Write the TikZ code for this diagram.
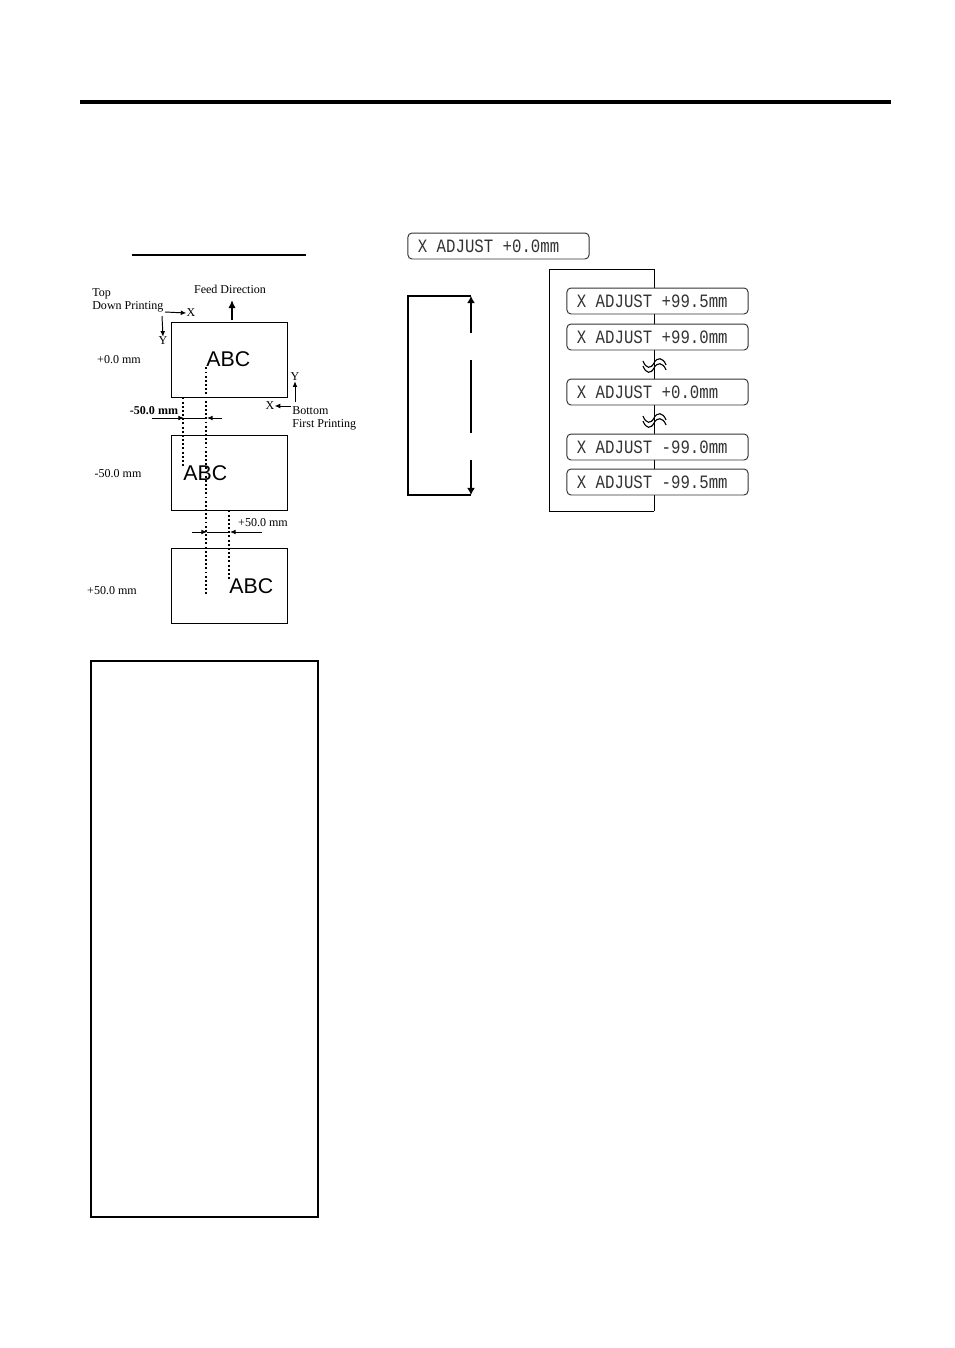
\documentclass[tikz,border=0pt]{standalone}
\usepackage{fontspec}
\setmainfont{Liberation Serif}
\setsansfont{Liberation Sans}
\newfontfamily\lcdfont{Liberation Mono}
\usepackage{graphicx}
\usepackage{xcolor}
\usepackage{tikz}
\usetikzlibrary{arrows.meta,positioning}

\newcommand{\lcdgap}{\hspace*{0.6em}}
\newcommand{\lcdtext}[3]{\scalebox{1}[1.2]{#1\lcdgap#2\lcdgap#3}}

\tikzset{
    note/.style={font=\fontsize{7.5}{8.1}\selectfont},
    sheet/.style={draw, line width=0.6pt, minimum width=72.4pt, minimum height=46.8pt},
    abc/.style={font=\sffamily\fontsize{13.3}{14}\selectfont},
    lcdbox/.style={draw=black!80, fill=white, line width=0.6pt, rounded corners=2.5pt,
        minimum height=16.2pt, text width=100.6pt, inner xsep=6.2pt, align=left,
        font=\lcdfont\fontsize{9.8}{10}\selectfont, text=black!80},
    smallarrow/.style={-{Latex[length=3.5pt,width=3pt]}, line width=0.6pt},
    bigarrow/.style={-{Latex[length=4.4pt,width=5pt]}, line width=1.5pt},
    guide/.style={dash pattern=on 1.2pt off 1.4pt, line width=1.1pt}
}

\begin{document}
\begin{tikzpicture}[x=0.624pt, y=-0.624pt, every node/.style={inner sep=0pt}]
                \useasboundingbox (0,0) rectangle (954,1348);

                % page rule and title rule
                \draw[line width=2.5pt] (80,102) -- (891,102);
                \draw[line width=1.3pt] (132,255) -- (306,255);

                % printed labels
                \node[sheet] (s0) at (229,359.5) {};
                \node[sheet] (s1) at (229,472.5) {};
                \node[sheet] (s2) at (229,585.5) {};
                \node[abc, anchor=west] (abc0) at (206,359.5) {ABC};
                \node[abc, anchor=west] (abc1) at (183,473.5) {ABC};
                \node[abc, anchor=west] (abc2) at (229,586.5) {ABC};

                \node[note] (p0) at (119,360) {+0.0 mm};
                \node[note] (p1) at (118,474) {-50.0 mm};
                \node[note] (p2) at (112,591) {+50.0 mm};

                % guide lines
                \draw[guide] (abc0.south west) -- (abc0.south west |- abc2.south);
                \draw[guide] (abc1.north west |- s0.south) -- (abc1.north west);
                \draw[guide] (abc2.north west |- s1.south) -- (abc2.north west);

                % shift -50.0 mm
                \node[note, font=\fontsize{7.5}{8.1}\selectfont\bfseries] (m50) at (154,411) {-50.0 mm};
                \draw[line width=0.6pt] (184,418) -- (207,418);
                \draw[smallarrow] (152,418) -- (184,418);
                \draw[smallarrow] (222,418) -- (207,418);

                % shift +50.0 mm
                \node[note] (p50) at (263,523) {+50.0 mm};
                \draw[line width=0.6pt] (207,532) -- (230,532);
                \draw[smallarrow] (192,532) -- (207,532);
                \draw[smallarrow] (262,532) -- (230,532);

                % feed direction
                \node[note] (feed) at (230,289) {Feed Direction};
                \draw[-{Latex[length=5pt,width=4.6pt]}, line width=1.8pt] (232,320) -- (232,300);

                % top down printing
                \node[note, align=left, anchor=west] (top) at (92,300) {Top\\Down Printing};
                \node[note] (tx) at (191,313) {X};
                \node[note] (ty) at (163,341) {Y};
                \draw[smallarrow] (165,312) -- (tx.west);
                \draw[smallarrow] (162,316) -- (ty.north);

                % bottom first printing
                \node[note, align=left, anchor=west] (bottom) at (292,418) {Bottom\\First Printing};
                \node[note] (by) at (295,377) {Y};
                \node[note] (bx) at (270,406) {X};
                \draw[smallarrow] (295,402) -- (by.south);
                \draw[smallarrow] (291,406) -- (bx.east);

                % current setting
                \node[lcdbox] (cur) at (498.5,246) {\lcdtext{X}{ADJUST}{+0.0mm}};

                % left bracket with arrows
                \coordinate (lt) at (408,296);
                \coordinate (lb) at (408,495);
                \coordinate (at) at (471,296);
                \coordinate (ab) at (471,495);
                \draw[line width=0.9pt] (at) -- (lt) -- (lb) -- (ab);
                \draw[bigarrow] (471,333) -- (at);
                \draw[line width=1.5pt] (471,360) -- (471,433);
                \draw[bigarrow] (471,460) -- (ab);

                % right bracket
                \coordinate (rt) at (654,269);
                \coordinate (rb) at (654,511);
                \draw[line width=0.6pt] (rt) -- (549,269) -- (549,511) -- (rb);
                \draw[line width=0.6pt] (rt) -- (rb);

                \foreach \wy in {361,416} {
                    \draw[line width=0.7pt] (643,\wy) .. controls (646,\wy+8) and (651,\wy+8) .. (654,\wy+2)
                        .. controls (657,\wy-4) and (663,\wy-4) .. (666,\wy+4);
                    \draw[line width=0.7pt] (643,\wy+5) .. controls (646,\wy+13) and (651,\wy+13) .. (654,\wy+7)
                        .. controls (657,\wy+1) and (663,\wy+1) .. (666,\wy+9);
                }

                \node[lcdbox] (a995) at (657.5,301) {\lcdtext{X}{ADJUST}{+99.5mm}};
                \node[lcdbox] (a990) at (657.5,337) {\lcdtext{X}{ADJUST}{+99.0mm}};
                \node[lcdbox] (a000) at (657.5,392) {\lcdtext{X}{ADJUST}{+0.0mm}};
                \node[lcdbox] (m990) at (657.5,447) {\lcdtext{X}{ADJUST}{-99.0mm}};
                \node[lcdbox] (m995) at (657.5,482) {\lcdtext{X}{ADJUST}{-99.5mm}};

                % note frame
                \draw[line width=0.9pt] (91,661) rectangle (318,1217);

            \end{tikzpicture}
\end{document}
